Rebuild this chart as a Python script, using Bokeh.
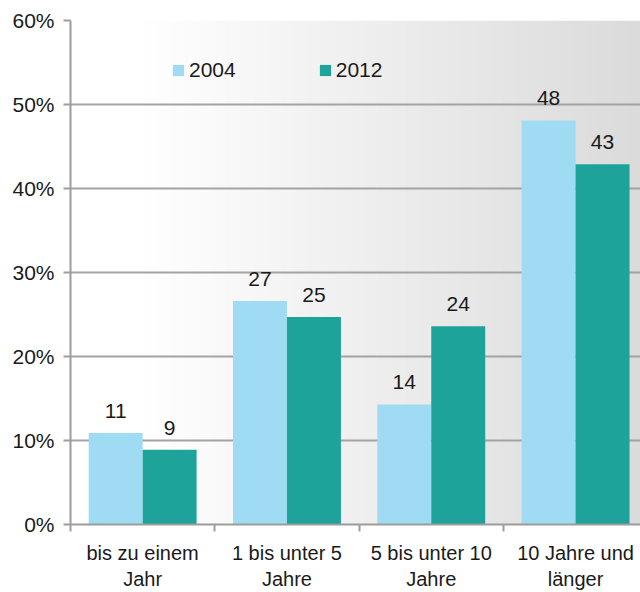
import numpy as np
from bokeh.plotting import figure
from bokeh.models import Range1d, FixedTicker, PrintfTickFormatter, Legend, LegendItem
from bokeh.core.properties import value
from bokeh.embed import file_html
from bokeh.resources import INLINE

# ---- data ----
categories = ["bis zu einem\nJahr", "1 bis unter 5\nJahre", "5 bis unter 10\nJahre", "10 Jahre und\nlänger"]
series_names = ["2004", "2012"]
values_2004 = [10.9, 26.6, 14.3, 48.1]
values_2012 = [8.9, 24.7, 23.6, 42.9]
y_ticks = [0, 10, 20, 30, 40, 50, 60]

FONT = "Liberation Sans"
FS = "21px"
TXT = "#1a1a1a"
GRAY = "#9c9c9c"
C2004 = "#9fdcf3"
C2012 = "#1ea39b"

X_END = 3.95
p = figure(width=640, height=592, output_backend="svg", toolbar_location=None,
           x_range=Range1d(0, X_END), y_range=Range1d(0, 60),
           min_border_left=70, min_border_right=0, min_border_top=20, min_border_bottom=67)
p.outline_line_color = None
p.background_fill_color = "white"
p.border_fill_color = "white"

# background gradient (white -> light gray)
ncol = 570
cols = np.arange(ncol)
shade = (255 - 36 * np.clip((70 + cols - 143) / 497.0, 0, 1)).astype(np.uint8)
img = np.empty((1, ncol), dtype=np.uint32)
view = img.view(dtype=np.uint8).reshape((1, ncol, 4))
view[..., 0] = shade
view[..., 1] = shade
view[..., 2] = shade
view[..., 3] = 255
p.image_rgba(image=[img], x=0, y=0, dw=X_END, dh=60, level="image")

n = len(categories)
centers = np.arange(n) + 0.5
bw = 0.374

r1 = p.vbar(x=centers - bw / 2, top=values_2004, width=bw, fill_color=C2004, line_color=None)
r2 = p.vbar(x=centers + bw / 2, top=values_2012, width=bw, fill_color=C2012, line_color=None)

for xs, vals in ((centers - bw / 2, values_2004), (centers + bw / 2, values_2012)):
    p.text(x=xs, y=vals, text=[str(int(round(v))) for v in vals],
           text_align="center", text_baseline="alphabetic", y_offset=-22,
           text_font=value(FONT), text_font_size=FS, text_color=TXT)

legend = Legend(items=[LegendItem(label=series_names[0], renderers=[r1]),
                       LegendItem(label=series_names[1], renderers=[r2])],
                orientation="horizontal", location=(101, 442),
                glyph_width=14, glyph_height=14, label_standoff=4, spacing=82,
                padding=0, margin=0, border_line_color=None, background_fill_alpha=0,
                label_text_font=FONT, label_text_font_size=FS, label_text_color=TXT)
p.add_layout(legend)

# y axis
p.yaxis.ticker = FixedTicker(ticks=y_ticks, minor_ticks=[])
p.yaxis.formatter = PrintfTickFormatter(format="%d%%")
p.yaxis.axis_line_color = GRAY
p.yaxis.axis_line_width = 2
p.yaxis.major_tick_line_color = GRAY
p.yaxis.major_tick_line_width = 2
p.yaxis.major_tick_out = 7
p.yaxis.major_tick_in = 0
p.yaxis.minor_tick_line_color = None
p.yaxis.major_label_standoff = 9
p.yaxis.major_label_text_font = FONT
p.yaxis.major_label_text_font_size = FS
p.yaxis.major_label_text_color = TXT

# x axis: labels at category centres, tick marks at category boundaries
p.xaxis.ticker = FixedTicker(ticks=list(centers), minor_ticks=list(range(n + 1)))
p.xaxis.major_label_overrides = {float(c): cat for c, cat in zip(centers, categories)}
p.xaxis.axis_line_color = GRAY
p.xaxis.axis_line_width = 2
p.xaxis.major_tick_line_color = None
p.xaxis.major_tick_out = 0
p.xaxis.major_tick_in = 0
p.xaxis.minor_tick_line_color = GRAY
p.xaxis.minor_tick_line_width = 2
p.xaxis.minor_tick_out = 7
p.xaxis.minor_tick_in = 0
p.xaxis.major_label_standoff = 10
p.xaxis.major_label_text_font = FONT
p.xaxis.major_label_text_font_size = "20px"
p.xaxis.major_label_text_color = TXT

p.xgrid.grid_line_color = None
p.ygrid.grid_line_color = "#a3a3a3"
p.ygrid.grid_line_width = 2

open("out.html", "w").write(file_html(p, INLINE))
